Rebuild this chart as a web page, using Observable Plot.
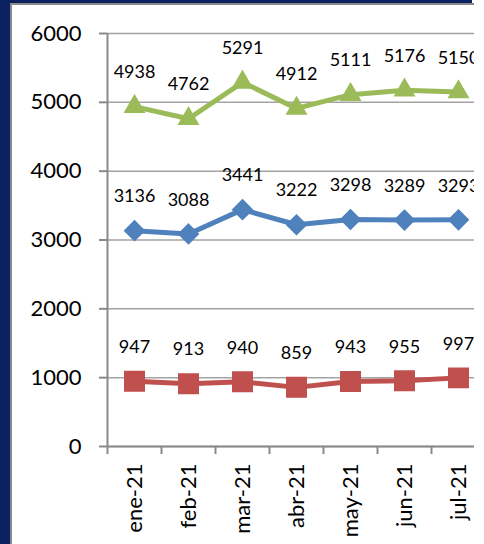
<!DOCTYPE html>
<html><head><meta charset="utf-8">
<script src="https://cdn.jsdelivr.net/npm/d3@7"></script>
<script src="https://cdn.jsdelivr.net/npm/@observablehq/plot@0.6"></script>
<style>
body{margin:0;background:#fff;}
#wrap{position:relative;width:484px;height:544px;overflow:hidden;background:#fff;}
#clip{position:absolute;left:0;top:0;width:474px;height:544px;overflow:hidden;}
.navL{position:absolute;left:0;top:0;width:10px;height:544px;background:#0b2160;}
.grayL{position:absolute;left:10px;top:3px;width:2px;height:541px;background:#8a8a8a;}
.navT{position:absolute;left:0;top:0;width:472px;height:3px;background:#0b2160;}
.grayT{position:absolute;left:10px;top:3px;width:464px;height:2px;background:#8a8a8a;}
</style></head>
<body><div id="wrap"><div id="clip"></div><div class="navT"></div><div class="grayT"></div><div class="navL"></div><div class="grayL"></div></div>
<script>
const months = ["ene-21","feb-21","mar-21","abr-21","may-21","jun-21","jul-21"];
const greenValues = [4938,4762,5291,4912,5111,5176,5150];
const blueValues  = [3136,3088,3441,3222,3298,3289,3293];
const redValues   = [947,913,940,859,943,955,997];
const yTicks = [0,1000,2000,3000,4000,5000,6000];

const series = [
  {name:"verde", values:greenValues, color:"#9BBB59", symbol:"triangle", r:7.2},
  {name:"azul",  values:blueValues,  color:"#4F81BD", symbol:"diamond2", r:8.8},
  {name:"rojo",  values:redValues,   color:"#C0504D", symbol:"square",   r:11}
];

const band = 54;
const gridColor = "#a3a3a3";
const axisColor = "#8a8a8a";

const marks = [
  Plot.gridY(yTicks, {stroke: gridColor, strokeOpacity: 1, strokeWidth: 1.5}),
  Plot.ruleY([0], {stroke: axisColor, strokeWidth: 2}),
  Plot.ruleX([months[0]], {dx: -band/2, y1: 0, y2: 6000, stroke: axisColor, strokeWidth: 2}),
  Plot.axisY(yTicks, {tickSize: 8, tickPadding: 18, tickFormat: d => String(d), label: null, stroke: axisColor, strokeWidth: 2, fontSize: 22, fill: "black"}),
  Plot.axisX({tickSize: 8, dx: -band/2, tickFormat: () => "", label: null, stroke: axisColor, strokeWidth: 2}),
  Plot.axisX({tickSize: 0, tickPadding: 17, tickRotate: -90, label: null, fontSize: 22, fill: "black"})
];

for (const s of series) {
  const rows = months.map((m, i) => ({month: m, value: s.values[i]}));
  marks.push(
    Plot.line(rows, {x: "month", y: "value", stroke: s.color, strokeWidth: 5}),
    Plot.dot(rows, {x: "month", y: "value", symbol: s.symbol, r: s.r, fill: s.color, stroke: s.color, strokeWidth: 1.5}),
    Plot.text(rows, {x: "month", y: "value", text: d => String(d.value), dy: -34, fontSize: 18, fill: "black"})
  );
}

const chart = Plot.plot({
  width: 490,
  height: 544,
  marginLeft: 107,
  marginRight: 5,
  marginTop: 33,
  marginBottom: 98,
  style: {fontFamily: "Lato, 'Open Sans', sans-serif", background: "transparent", maxWidth: "none", color: "black"},
  x: {type: "band", domain: months, padding: 0, axis: null, label: null},
  y: {domain: [0, 6000], axis: null, label: null},
  marks
});
document.getElementById("clip").appendChild(chart);
</script>
</body></html>
